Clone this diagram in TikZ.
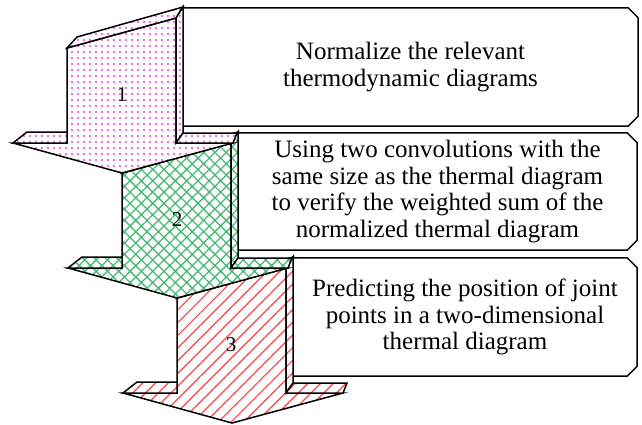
\documentclass[tikz,border=0pt]{standalone}
\usepackage{fontspec}
\setmainfont{Liberation Serif}
\usetikzlibrary{patterns.meta}

\definecolor{dotpink}{RGB}{250,60,205}
\definecolor{hatchgreen}{RGB}{70,185,115}
\definecolor{linered}{RGB}{250,70,70}

\tikzset{
    stepface/.style={draw, line width=1.5pt, preaction={fill=white}},
    steparrow/.pic={
        % front face, shaft top, shaft side, barb tops
        \path[stepface, pic actions] (0,0) -- (109,-30) -- (109,95) -- (166,95) -- (55,125) -- (-54,95) -- (0,95) -- cycle;
        \path[stepface, pic actions] (0,0) -- (10,-11) -- (116,-41) -- (109,-30) -- cycle;
        \path[stepface, pic actions] (109,-30) -- (116,-41) -- (116,85) -- (109,95) -- cycle;
        \path[stepface, pic actions] (109,95) -- (116,85) -- (170,85) -- (166,95) -- cycle;
        \path[stepface, pic actions] (-54,95) -- (-40,84) -- (0,84) -- (0,95) -- cycle;
    }
}

\begin{document}
\begin{tikzpicture}[
        x=1pt, y=-1pt,
        textbox/.style={inner sep=0pt, align=center, font=\fontsize{25}{26.8}\selectfont},
        boxline/.style={draw, line width=1.5pt},
        numlabel/.style={font=\fontsize{21}{27}\selectfont},
        dotfill/.style={pattern={Dots[distance=6pt, radius=1.1pt]}, pattern color=dotpink},
        gridfill/.style={pattern={Hatch[angle=45, distance=8pt, line width=1.3pt]}, pattern color=hatchgreen},
        linefill/.style={pattern={Lines[angle=45, distance=9pt, line width=1.2pt]}, pattern color=linered}
    ]
    \useasboundingbox (0,0) rectangle (642,424);

    \node[textbox, minimum width=455pt, minimum height=118pt] (box1) at (410.5,67)
        {Normalize the relevant\\thermodynamic diagrams};
    \node[textbox, minimum width=399pt, minimum height=117pt] (box2) at (437.5,191.5)
        {Using two convolutions with the\\same size as the thermal diagram\\to verify the weighted sum of the\\normalized thermal diagram};
    \node[textbox, minimum width=344pt, minimum height=118pt] (box3) at (465,317)
        {Predicting the position of joint\\points in a two-dimensional\\thermal diagram};

    % outlines with snipped right corners
    \foreach \b in {box1,box2,box3}
        \draw[boxline] (\b.north west) -- ([xshift=-10pt]\b.north east) -- ([yshift=-10pt]\b.north east)
            -- ([yshift=10pt]\b.south east) -- ([xshift=-10pt]\b.south east) -- (\b.south west) -- cycle;

    \pic[linefill] at (177,298) {steparrow};
    \pic[gridfill] at (122,173) {steparrow};
    \pic[dotfill] at (67,48) {steparrow};

    \node[numlabel] (num1) at (122,95) {1};
    \node[numlabel] (num2) at (177,220) {2};
    \node[numlabel] (num3) at (231,345) {3};
\end{tikzpicture}
\end{document}
